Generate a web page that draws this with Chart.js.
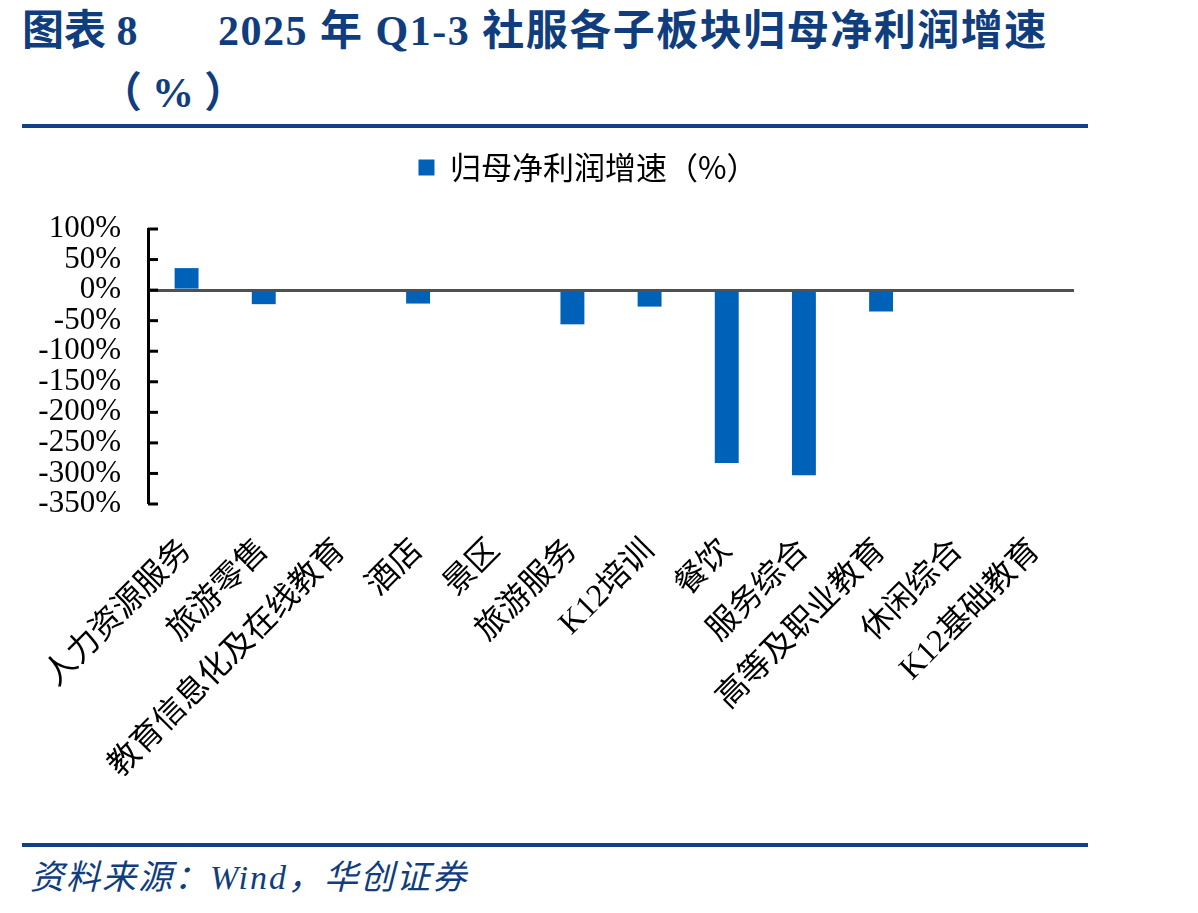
<!DOCTYPE html>
<html lang="zh">
<head>
<meta charset="utf-8">
<title>2025年Q1-3社服各子板块归母净利润增速</title>
<script src="https://cdn.jsdelivr.net/npm/chart.js@4.4.1/dist/chart.umd.min.js"></script>
<style>
  body { margin: 0; background: #fff; width: 1198px; height: 913px; position: relative; overflow: hidden; }
  .t { position: absolute; color: #0f3d7e; font-weight: bold; font-family: 'Liberation Serif', 'Noto Sans CJK SC', serif;
       font-size: 42px; line-height: 42px; white-space: nowrap; }
  .rule { position: absolute; left: 22px; width: 1066px; height: 4px; background: #134185; }
  #src { position: absolute; left: 30px; top: 860px; color: #0f3d7e; font-style: italic; font-family: 'Liberation Serif', 'Noto Sans CJK SC', serif;
         font-size: 34px; line-height: 36px; letter-spacing: 2px; white-space: nowrap; }
  #c { position: absolute; left: 0; top: 142px; }
</style>
</head>
<body>
<div class="t" style="left:22px; top:10px;">图表 8</div>
<div class="t" style="left:218px; top:10px; letter-spacing:1.5px;">2025 年 Q1-3 社服各子板块归母净利润增速</div>
<div class="t" style="left:100px; top:72px; letter-spacing:10px;">（%）</div>
<div class="rule" style="top:124px;"></div>

<canvas id="c" width="1198" height="680"></canvas>

<div class="rule" style="top:843px;"></div>
<div id="src">资料来源：Wind，华创证券</div>

<script>
// categories and values (%)
const categories = ['人力资源服务', '旅游零售', '教育信息化及在线教育', '酒店', '景区', '旅游服务',
  'K12培训', '餐饮', '服务综合', '高等及职业教育', '休闲综合', 'K12基础教育'];
const growth = [36, -23, 0, -22, 0, -56, -27, -283, -303, -35, 0, 0];
const seriesName = '归母净利润增速（%）';
const yMin = -350;
const yMax = 100;
const yStep = 50;

// small inward tick marks on the y axis
const innerTicks = {
  id: 'innerTicks',
  afterDatasetsDraw(chart) {
    const y = chart.scales.y;
    const ctx = chart.ctx;
    ctx.save();
    ctx.strokeStyle = '#000';
    ctx.lineWidth = 3;
    y.ticks.forEach((t) => {
      const py = y.getPixelForValue(t.value);
      ctx.beginPath();
      ctx.moveTo(y.right, py);
      ctx.lineTo(y.right + 10, py);
      ctx.stroke();
    });
    ctx.restore();
  }
};

// empty spacer axes: gap under the legend and room on the right
const spacer = (size, horiz) => ({
  display: true,
  grid: { display: false },
  border: { display: false },
  ticks: { display: false },
  afterFit: (s) => { if (horiz) s.height = size; else s.width = size; },
});

const ctx = document.getElementById('c').getContext('2d');
const chart = new Chart(ctx, {
  type: 'bar',
  data: {
    labels: categories,
    datasets: [{
      label: seriesName,
      data: growth,
      xAxisID: 'x',
      yAxisID: 'y',
      backgroundColor: '#0061b8',
      barPercentage: 0.31,
      categoryPercentage: 1,
    }],
  },
  options: {
    responsive: false,
    animation: false,
    devicePixelRatio: 1,
    layout: { padding: { left: 0, right: 22, top: 0, bottom: 0 } },
    plugins: {
      tooltip: { enabled: false },
      legend: {
        position: 'top',
        labels: {
          boxWidth: 16,
          boxHeight: 16,
          padding: 10,
          color: '#000',
          font: { family: "'Noto Sans CJK SC', sans-serif", size: 31 },
        },
      },
    },
    scales: {
      x: {
        grid: { display: false },
        border: { display: false },
        ticks: {
          autoSkip: false,
          minRotation: 45,
          maxRotation: 45,
          padding: 20,
          color: '#000',
          font: { family: "'Liberation Serif', 'Noto Sans CJK SC', serif", size: 32 },
        },
        afterFit: (scale) => { scale.height = 318; },
      },
      y: {
        min: yMin,
        max: yMax,
        grid: {
          drawTicks: false,
          color: (c) => (c.tick && c.tick.value === 0 ? '#505050' : 'rgba(0,0,0,0)'),
          lineWidth: (c) => (c.tick && c.tick.value === 0 ? 3 : 0),
        },
        border: { display: true, color: '#000', width: 3 },
        ticks: {
          stepSize: yStep,
          autoSkip: false,
          padding: 27,
          color: '#000',
          font: { family: "'Liberation Serif', serif", size: 31 },
          callback: (v) => v + '%',
        },
        afterFit: (scale) => { scale.width = 148; },
      },
      xTop: Object.assign({ type: 'linear', position: 'top' }, spacer(36, true)),
      yRight: Object.assign({ type: 'linear', position: 'right' }, spacer(102, false)),
    },
  },
  plugins: [innerTicks],
});
</script>
</body>
</html>
